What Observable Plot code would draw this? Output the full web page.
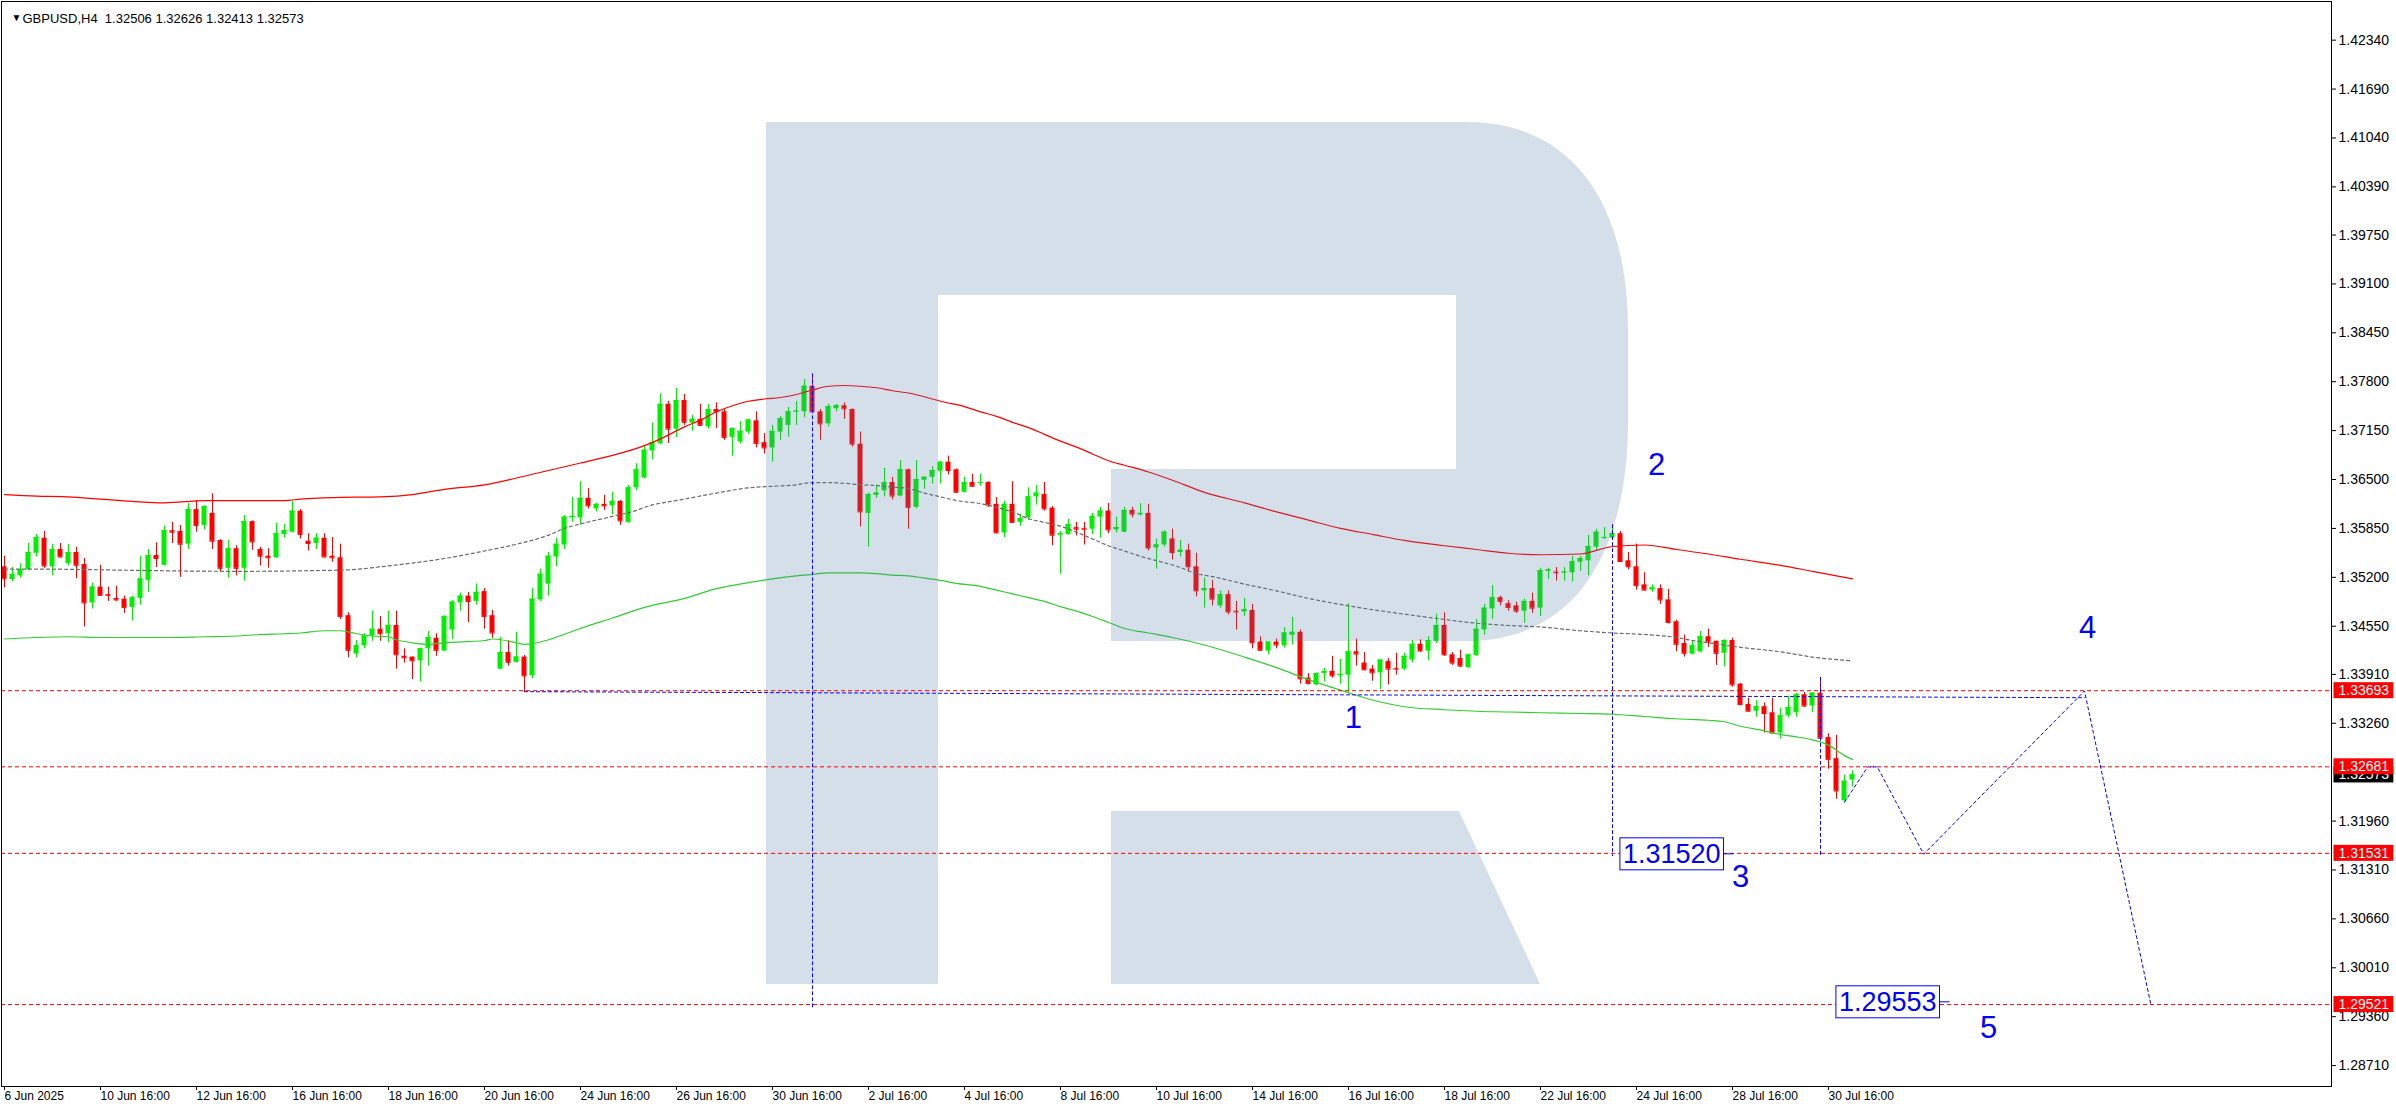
<!DOCTYPE html>
<html><head><meta charset="utf-8">
<script src="https://cdn.jsdelivr.net/npm/d3@7"></script>
<script src="https://cdn.jsdelivr.net/npm/@observablehq/plot@0.6"></script>
<style>
html,body{margin:0;padding:0;background:#fff;}
#chart{width:2396px;height:1110px;}
</style></head><body><div id="chart"></div>
<script>
// ---------------- DATA (GBPUSD H4, bar 0 = 6 Jun 2025 16:00) ----------------
const header = "GBPUSD,H4  1.32506 1.32626 1.32413 1.32573";
const open = [
1.3534,1.3517,1.3522,1.3530,1.3552,1.3572,1.3534,1.3557,1.3538,1.3553,
1.3537,1.3486,1.3507,1.3497,1.3492,1.3491,1.3480,1.3492,1.3516,1.3549,
1.3536,1.3582,1.3581,1.3564,1.3610,1.3589,1.3605,1.3569,1.3532,1.3558,
1.3532,1.3594,1.3557,1.3548,1.3546,1.3577,1.3580,1.3608,1.3568,1.3565,
1.3572,1.3548,1.3546,1.3469,1.3418,1.3429,1.3442,1.3451,1.3445,1.3456,
1.3415,1.3414,1.3409,1.3425,1.3439,1.3422,1.3450,1.3486,1.3495,1.3488,
1.3501,1.3469,1.3398,1.3420,1.3407,1.3414,1.3389,1.3490,1.3511,1.3547,
1.3563,1.3599,1.3599,1.3625,1.3611,1.3617,1.3615,1.3621,1.3593,1.3639,
1.3652,1.3688,1.3698,1.3750,1.3717,1.3755,1.3725,1.3730,1.3720,1.3743,
1.3740,1.3706,1.3700,1.3713,1.3728,1.3699,1.3692,1.3713,1.3722,1.3740,
1.3740,1.3774,1.3740,1.3724,1.3744,1.3748,1.3743,1.3697,1.3605,1.3629,
1.3635,1.3646,1.3628,1.3663,1.3613,1.3649,1.3653,1.3661,1.3673,1.3663,
1.3633,1.3646,1.3645,1.3646,1.3617,1.3579,1.3617,1.3593,1.3599,1.3627,
1.3630,1.3612,1.3576,1.3577,1.3586,1.3585,1.3584,1.3600,1.3608,1.3583,
1.3580,1.3609,1.3603,1.3605,1.3559,1.3563,1.3571,1.3553,1.3556,1.3534,
1.3502,1.3505,1.3482,1.3497,1.3475,1.3474,1.3476,1.3434,1.3422,1.3434,
1.3429,1.3443,1.3447,1.3386,1.3377,1.3392,1.3395,1.3389,1.3390,1.3421,
1.3406,1.3398,1.3393,1.3408,1.3399,1.3398,1.3410,1.3431,1.3422,1.3435,
1.3456,1.3417,1.3412,1.3400,1.3416,1.3450,1.3478,1.3493,1.3485,1.3482,
1.3475,1.3488,1.3479,1.3528,1.3527,1.3526,1.3526,1.3540,1.3542,1.3560,
1.3572,1.3572,1.3578,1.3542,1.3534,1.3510,1.3503,1.3505,1.3490,1.3461,
1.3432,1.3418,1.3421,1.3441,1.3435,1.3419,1.3436,1.3378,1.3351,1.3342,
1.3348,1.3340,1.3313,1.3336,1.3340,1.3364,1.3349,1.3366,1.3307,1.3279,
1.3223,1.32506];
const high = [
1.3548,1.3533,1.3538,1.3565,1.3577,1.3581,1.3564,1.3565,1.3564,1.3560,
1.3545,1.3512,1.3536,1.3507,1.3508,1.3495,1.3495,1.3548,1.3557,1.3566,
1.3588,1.3593,1.3589,1.3618,1.3622,1.3615,1.3631,1.3570,1.3569,1.3562,
1.3602,1.3595,1.3560,1.3558,1.3592,1.3590,1.3621,1.3610,1.3578,1.3578,
1.3578,1.3573,1.3564,1.3473,1.3436,1.3445,1.3475,1.3468,1.3475,1.3475,
1.3425,1.3414,1.3426,1.3448,1.3445,1.3469,1.3489,1.3499,1.3500,1.3511,
1.3505,1.3476,1.3440,1.3436,1.3447,1.3416,1.3505,1.3531,1.3553,1.3572,
1.3602,1.3626,1.3647,1.3638,1.3618,1.3629,1.3633,1.3622,1.3642,1.3671,
1.3695,1.3725,1.3764,1.3754,1.3771,1.3763,1.3735,1.3750,1.3750,1.3752,
1.3743,1.3718,1.3727,1.3730,1.3740,1.3711,1.3722,1.3734,1.3746,1.3754,
1.3783,1.3788,1.3743,1.3750,1.3750,1.3752,1.3744,1.3713,1.3632,1.3643,
1.3665,1.3653,1.3675,1.3664,1.3675,1.3653,1.3667,1.3674,1.3681,1.3664,
1.3653,1.3657,1.3657,1.3647,1.3626,1.3621,1.3647,1.3604,1.3639,1.3642,
1.3646,1.3614,1.3581,1.3597,1.3593,1.3593,1.3605,1.3613,1.3618,1.3600,
1.3613,1.3613,1.3618,1.3617,1.3571,1.3582,1.3584,1.3569,1.3564,1.3552,
1.3519,1.3516,1.3502,1.3502,1.3488,1.3492,1.3484,1.3441,1.3434,1.3438,
1.3453,1.3467,1.3450,1.3392,1.3393,1.3399,1.3415,1.3411,1.3485,1.3438,
1.3420,1.3403,1.3410,1.3412,1.3419,1.3419,1.3436,1.3437,1.3441,1.3471,
1.3473,1.3420,1.3423,1.3418,1.3464,1.3484,1.3509,1.3495,1.3489,1.3487,
1.3491,1.3499,1.3532,1.3532,1.3533,1.3533,1.3548,1.3548,1.3576,1.3584,
1.3586,1.3589,1.3581,1.3553,1.3564,1.3526,1.3510,1.3510,1.3504,1.3463,
1.3443,1.3435,1.3448,1.3451,1.3435,1.3437,1.3439,1.3379,1.3359,1.3356,
1.3353,1.3359,1.3346,1.3362,1.3366,1.3367,1.3367,1.3385,1.3312,1.3310,
1.3257,1.32626];
const low = [
1.3506,1.3514,1.3519,1.3529,1.3547,1.3532,1.3522,1.3546,1.3535,1.3518,
1.3454,1.3478,1.3495,1.3488,1.3488,1.3472,1.3462,1.3483,1.3500,1.3533,
1.3535,1.3565,1.3520,1.3557,1.3580,1.3583,1.3557,1.3527,1.3519,1.3522,
1.3515,1.3556,1.3535,1.3532,1.3545,1.3572,1.3579,1.3571,1.3555,1.3557,
1.3546,1.3540,1.3464,1.3413,1.3413,1.3425,1.3435,1.3435,1.3433,1.3398,
1.3406,1.3384,1.3381,1.3402,1.3415,1.3421,1.3437,1.3475,1.3460,1.3483,
1.3451,1.3439,1.3397,1.3402,1.3406,1.3367,1.3385,1.3488,1.3495,1.3534,
1.3557,1.3593,1.3589,1.3611,1.3607,1.3609,1.3603,1.3589,1.3592,1.3635,
1.3651,1.3676,1.3696,1.3698,1.3706,1.3722,1.3714,1.3721,1.3717,1.3718,
1.3702,1.3681,1.3697,1.3710,1.3692,1.3684,1.3673,1.3702,1.3706,1.3722,
1.3732,1.3739,1.3702,1.3720,1.3740,1.3730,1.3693,1.3587,1.3560,1.3625,
1.3627,1.3623,1.3627,1.3584,1.3611,1.3637,1.3644,1.3644,1.3656,1.3632,
1.3632,1.3640,1.3641,1.3613,1.3578,1.3573,1.3592,1.3588,1.3596,1.3616,
1.3608,1.3562,1.3524,1.3576,1.3575,1.3563,1.3577,1.3572,1.3578,1.3579,
1.3579,1.3599,1.3601,1.3555,1.3531,1.3560,1.3543,1.3547,1.3527,1.3494,
1.3479,1.3482,1.3479,1.3470,1.3450,1.3468,1.3425,1.3422,1.3417,1.3425,
1.3426,1.3430,1.3378,1.3377,1.3376,1.3381,1.3386,1.3378,1.3365,1.3402,
1.3396,1.3382,1.3371,1.3377,1.3390,1.3396,1.3406,1.3421,1.3409,1.3432,
1.3415,1.3403,1.3400,1.3399,1.3415,1.3443,1.3464,1.3482,1.3475,1.3472,
1.3459,1.3472,1.3468,1.3517,1.3515,1.3515,1.3514,1.3528,1.3522,1.3555,
1.3570,1.3570,1.3540,1.3530,1.3503,1.3502,1.3500,1.3484,1.3458,1.3421,
1.3414,1.3417,1.3420,1.3427,1.3403,1.3401,1.3374,1.3349,1.3341,1.3334,
1.3313,1.3312,1.3305,1.3333,1.3334,1.3347,1.3340,1.3305,1.3265,1.3225,
1.3221,1.32413];
const close = [
1.3518,1.3524,1.3530,1.3553,1.3573,1.3535,1.3557,1.3547,1.3553,1.3536,
1.3486,1.3507,1.3496,1.3496,1.3490,1.3480,1.3493,1.3518,1.3549,1.3545,
1.3582,1.3580,1.3564,1.3610,1.3589,1.3614,1.3568,1.3532,1.3558,1.3532,
1.3594,1.3567,1.3548,1.3546,1.3578,1.3582,1.3608,1.3577,1.3565,1.3572,
1.3547,1.3546,1.3468,1.3423,1.3429,1.3442,1.3451,1.3445,1.3456,1.3417,
1.3413,1.3409,1.3425,1.3440,1.3423,1.3468,1.3487,1.3495,1.3488,1.3500,
1.3468,1.3446,1.3420,1.3407,1.3414,1.3389,1.3491,1.3524,1.3548,1.3564,
1.3600,1.3601,1.3625,1.3615,1.3617,1.3615,1.3621,1.3595,1.3639,1.3663,
1.3689,1.3699,1.3750,1.3717,1.3755,1.3726,1.3730,1.3722,1.3743,1.3740,
1.3706,1.3718,1.3714,1.3729,1.3698,1.3692,1.3714,1.3731,1.3740,1.3741,
1.3774,1.3740,1.3724,1.3747,1.3748,1.3744,1.3697,1.3607,1.3630,1.3632,
1.3646,1.3628,1.3663,1.3613,1.3650,1.3653,1.3662,1.3673,1.3662,1.3633,
1.3646,1.3641,1.3646,1.3616,1.3579,1.3617,1.3593,1.3598,1.3627,1.3632,
1.3611,1.3576,1.3578,1.3590,1.3584,1.3584,1.3601,1.3608,1.3583,1.3586,
1.3609,1.3604,1.3605,1.3559,1.3563,1.3580,1.3553,1.3556,1.3534,1.3502,
1.3505,1.3491,1.3497,1.3474,1.3474,1.3477,1.3433,1.3423,1.3434,1.3430,
1.3446,1.3447,1.3385,1.3379,1.3392,1.3395,1.3389,1.3391,1.3421,1.3418,
1.3397,1.3393,1.3410,1.3398,1.3398,1.3415,1.3431,1.3422,1.3436,1.3456,
1.3417,1.3406,1.3402,1.3417,1.3451,1.3479,1.3493,1.3488,1.3480,1.3475,
1.3488,1.3479,1.3529,1.3530,1.3526,1.3527,1.3541,1.3545,1.3561,1.3580,
1.3573,1.3578,1.3541,1.3534,1.3509,1.3503,1.3506,1.3490,1.3460,1.3431,
1.3419,1.3429,1.3441,1.3434,1.3419,1.3436,1.3377,1.3351,1.3342,1.3348,
1.3339,1.3313,1.3336,1.3347,1.3364,1.3349,1.3366,1.3306,1.3278,1.3236,
1.3249,1.32573];

// indicator lines, read as [bar, price]
const upperBand = [[0,1.3630],[4,1.3628],[8,1.3627],[12,1.3624],[16,1.3621],[20,1.3619],[25,1.3622],[30,1.3622],[35,1.3622],[37,1.3624],[41,1.3626],[47,1.3627],[51,1.3630],[55,1.3637],[60,1.3643],[64,1.3652],[68,1.3662],[72,1.3672],[76,1.3682],[80,1.3695],[82,1.3704],[85,1.3720],[87,1.3729],[89,1.3740],[91,1.3748],[93,1.3754],[95,1.3757],[97,1.3759],[99,1.3763],[101,1.3769],[103,1.3774],[105,1.3775],[107,1.3774],[109,1.3772],[111,1.3768],[113,1.3765],[115,1.3760],[117,1.3754],[120,1.3747],[122,1.3740],[124,1.3734],[126,1.3726],[128,1.3719],[130,1.3710],[132,1.3701],[134,1.3693],[136,1.3684],[138,1.3675],[140,1.3669],[143,1.3660],[146,1.3649],[150,1.3633],[155,1.3619],[159,1.3607],[163,1.3596],[167,1.3585],[171,1.3577],[175,1.3569],[180,1.3562],[184,1.3557],[188,1.3552],[192,1.3550],[197,1.3551],[201,1.3561],[205,1.3563],[209,1.3557],[213,1.3551],[217,1.3544],[222,1.3536],[226,1.3528],[231,1.3518]];
const middleLine = [[0,1.3531],[4,1.3531],[12,1.3530],[18,1.3529],[29,1.3528],[39,1.3529],[43,1.3530],[47,1.3534],[51,1.3539],[55,1.3545],[60,1.3555],[64,1.3564],[68,1.3576],[70,1.3585],[72,1.3591],[76,1.3601],[79,1.3609],[80,1.3613],[85,1.3624],[89,1.3632],[93,1.3639],[96,1.3641],[99,1.3643],[101,1.3646],[103,1.3646],[105,1.3645],[107,1.3643],[109,1.3642],[111,1.3640],[113,1.3638],[115,1.3632],[117,1.3627],[119,1.3622],[122,1.3618],[124,1.3613],[126,1.3607],[128,1.3598],[130,1.3593],[132,1.3588],[134,1.3580],[136,1.3571],[138,1.3562],[140,1.3555],[142,1.3548],[147,1.3533],[149,1.3525],[151,1.3521],[155,1.3511],[159,1.3502],[163,1.3492],[167,1.3484],[171,1.3477],[175,1.3471],[180,1.3464],[184,1.3459],[188,1.3456],[192,1.3454],[197,1.3449],[201,1.3446],[205,1.3444],[209,1.3440],[211,1.3436],[213,1.3433],[217,1.3427],[222,1.3421],[226,1.3414],[231,1.3409]];
const lowerBand = [[0,1.3438],[4,1.3440],[8,1.3441],[12,1.3440],[20,1.3440],[25,1.3441],[29,1.3442],[32,1.3444],[35,1.3445],[37,1.3446],[40,1.3449],[42,1.3449],[44,1.3445],[46,1.3442],[48,1.3441],[49,1.3437],[51,1.3433],[53,1.3431],[55,1.3433],[60,1.3436],[61,1.3438],[64,1.3433],[65,1.3431],[67,1.3434],[68,1.3437],[72,1.3452],[76,1.3466],[80,1.3480],[85,1.3492],[89,1.3505],[93,1.3513],[96,1.3518],[99,1.3522],[101,1.3524],[103,1.3526],[105,1.3526],[107,1.3526],[109,1.3525],[111,1.3523],[113,1.3522],[115,1.3519],[117,1.3516],[119,1.3512],[122,1.3508],[124,1.3503],[126,1.3498],[128,1.3493],[130,1.3488],[132,1.3481],[134,1.3475],[136,1.3468],[138,1.3460],[140,1.3452],[143,1.3446],[146,1.3440],[150,1.3430],[155,1.3414],[159,1.3400],[163,1.3384],[167,1.3370],[171,1.3357],[175,1.3348],[180,1.3344],[184,1.3342],[188,1.3341],[192,1.3340],[197,1.3339],[201,1.3338],[205,1.3335],[209,1.3332],[213,1.3330],[215,1.3328],[217,1.3322],[220,1.3316],[222,1.3311],[224,1.3308],[226,1.3304],[228,1.3297],[230,1.3283],[231,1.3278]];

// horizontal levels and price labels
const levels = [1.33693, 1.32681, 1.31531, 1.29521];
const lastPrice = 1.32573;

// axis ticks
const yTicks = [1.42340,1.41690,1.41040,1.40390,1.39750,1.39100,1.38450,1.37800,1.37150,1.36500,1.35850,1.35200,1.34550,1.33910,1.33260,1.31960,1.31310,1.30660,1.30010,1.29360,1.28710];
const xTickBars = [0,12,24,36,48,60,72,84,96,108,120,132,144,156,168,180,192,204,216,228];
const xTickLabels = ["6 Jun 2025","10 Jun 16:00","12 Jun 16:00","16 Jun 16:00","18 Jun 16:00","20 Jun 16:00","24 Jun 16:00","26 Jun 16:00","30 Jun 16:00","2 Jul 16:00","4 Jul 16:00","8 Jul 16:00","10 Jul 16:00","14 Jul 16:00","16 Jul 16:00","18 Jul 16:00","22 Jul 16:00","24 Jul 16:00","28 Jul 16:00","30 Jul 16:00"];

// forecast objects (blue), [bar, price]
const topMarkerLine = [[101,1.37905],[101,1.29480]];
const supportLine = [[65,1.33680],[260,1.33600]];
const wave2Drop = [[201,1.35900],[201,1.31500]];
const swingDrop = [[227,1.33870],[227,1.31500]];
const forecastPath = [[230,1.32210],[232.9,1.32680],[234.1,1.32680],[239.9,1.31520],[260,1.33690],[268.3,1.29520]];

// annotation texts
const waveLabels = [
  {text:"1", bar:168.6, price:1.33323},
  {text:"2", bar:206.5, price:1.36686},
  {text:"3", bar:217.0, price:1.31210},
  {text:"4", bar:260.4, price:1.34520},
  {text:"5", bar:248.0, price:1.29203}
];
const targetLabels = [
  {text:"1.31520", bar:208.4, price:1.31520},
  {text:"1.29553", bar:235.4, price:1.29553}
];

// ---------------- BUILD ----------------
const UP = "#00ee00", DOWN = "#ff0000", BLUE = "#0000ff";
const FONT = "'Liberation Sans', Arial, sans-serif";
const candles = open.map((o, i) => ({i, o, h: high[i], l: low[i], c: close[i], up: close[i] >= o}));
const pts = a => a.map(([bar, price]) => ({bar, price}));
const blueSegs = [
  ...pts(topMarkerLine).map(d => ({...d, id: "a"})),
  ...pts(supportLine).map(d => ({...d, id: "b"})),
  ...pts(wave2Drop).map(d => ({...d, id: "c"})),
  ...pts(swingDrop).map(d => ({...d, id: "d"})),
  ...pts(forecastPath).map(d => ({...d, id: "e"}))
];
const HW = 0.3125;

const chart = Plot.plot({
  width: 2396, height: 1110,
  marginLeft: 1, marginRight: 65, marginTop: 1, marginBottom: 24,
  style: {fontFamily: FONT, fontSize: "12px", background: "#fff", color: "#000"},
  x: {domain: [-0.375, 290.875]},
  y: {domain: [1.28432, 1.42854]},
  marks: [
    Plot.ruleX(candles, {x: "i", y1: "l", y2: "h", stroke: d => d.up ? UP : DOWN, strokeWidth: 1}),
    Plot.rect(candles, {x1: d => d.i - HW, x2: d => d.i + HW, y1: "o", y2: "c", fill: d => d.up ? UP : DOWN}),
    Plot.ruleY(candles, {x1: d => d.i - HW, x2: d => d.i + HW, y: "c", stroke: d => d.up ? UP : DOWN}),
    Plot.line(pts(upperBand), {x: "bar", y: "price", stroke: "#ff0000", strokeWidth: 1.2, curve: "monotone-x"}),
    Plot.line(pts(middleLine), {x: "bar", y: "price", stroke: "#6a6a6a", strokeWidth: 1.2, strokeDasharray: "3,3", curve: "monotone-x"}),
    Plot.line(pts(lowerBand), {x: "bar", y: "price", stroke: "#32cd32", strokeWidth: 1.2, curve: "monotone-x"}),
    Plot.ruleY(levels, {y: d => d, stroke: "#ff0000", strokeDasharray: "4,3", ariaDescription: "levels"}),
    Plot.line(blueSegs, {x: "bar", y: "price", z: "id", stroke: BLUE, strokeWidth: 1, strokeDasharray: "3,3"}),
    Plot.text(waveLabels, {x: "bar", y: "price", text: "text", fill: BLUE, fontSize: 31, fontFamily: FONT}),
    Plot.text(targetLabels, {x: "bar", y: "price", text: "text", fill: BLUE, fontSize: 27, fontFamily: FONT, ariaDescription: "target-labels"}),
    Plot.frame({stroke: "#000"}),
    Plot.axisY(yTicks, {anchor: "right", tickSize: 4, tickPadding: 3, tickFormat: d => d.toFixed(5), fontSize: 14, fill: "#000", label: null}),
    Plot.axisX(xTickBars, {anchor: "bottom", tickSize: 4, tickPadding: 1, textAnchor: "start", tickFormat: d => xTickLabels[xTickBars.indexOf(d)], fontSize: 12, fill: "#000", label: null}),
    Plot.text([lastPrice], {y: d => d, frameAnchor: "right", dx: 7, textAnchor: "start", fill: "#fff", fontSize: 14, text: d => d.toFixed(5), ariaDescription: "last-label"}),
    Plot.text(levels, {y: d => d, frameAnchor: "right", dx: 7, textAnchor: "start", fill: "#fff", fontSize: 14, text: d => d.toFixed(5), ariaDescription: "level-labels"}),
    Plot.text(["▼"], {frameAnchor: "top-left", dx: 10, dy: 12, fontSize: 10, fill: "#000"}),
    Plot.text([header], {frameAnchor: "top-left", dx: 21, dy: 12, textAnchor: "start", fontSize: 13, fill: "#000"})
  ]
});
document.getElementById("chart").appendChild(chart);

// ---------------- DECORATION: watermark logo & label boxes ----------------
const NS = "http://www.w3.org/2000/svg";
function groupOf(desc) {
  let n = chart.querySelector(`[aria-description="${desc}"]`);
  if (!n) return null;
  while (n.parentNode && n.parentNode !== chart && n.tagName !== "g") n = n.parentNode;
  return n;
}
// watermark (semi-transparent, above candles/indicators, below drawn objects)
const levelsG = groupOf("levels");
const logo = document.createElementNS(NS, "g");
logo.setAttribute("fill", "rgb(77,119,166)");
logo.setAttribute("fill-opacity", "0.235");
logo.innerHTML =
  '<path d="M766,122 H1467 C1570,122 1628,200 1628,330 V420 C1628,560 1570,641 1467,641 H1111 V469 H1456 V295 H938 V984 H766 Z"/>' +
  '<path d="M1111,811 H1459 L1540,984 H1111 Z"/>';
if (levelsG) levelsG.parentNode.insertBefore(logo, levelsG); else chart.appendChild(logo);

function boxes(desc, makeRect, tail) {
  const g = groupOf(desc);
  if (!g) return;
  g.querySelectorAll("text").forEach(function(t) {
    const b = t.getBBox();
    const r = makeRect(b);
    const el = document.createElementNS(NS, "rect");
    for (const k in r) el.setAttribute(k, r[k]);
    const tr = t.getAttribute("transform");
    if (tr) el.setAttribute("transform", tr);
    t.parentNode.insertBefore(el, t);
    if (tail) {
      const l = document.createElementNS(NS, "line");
      const cy = b.y + b.height / 2;
      l.setAttribute("x1", b.x + b.width + 3); l.setAttribute("x2", b.x + b.width + 13);
      l.setAttribute("y1", cy); l.setAttribute("y2", cy);
      l.setAttribute("stroke", BLUE);
      if (tr) l.setAttribute("transform", tr);
      t.parentNode.appendChild(l);
    }
  });
}
boxes("last-label", b => ({x: b.x - 5, y: b.y + b.height / 2 - 8, width: b.width + 9, height: 16, fill: "#000"}));
boxes("level-labels", b => ({x: b.x - 5, y: b.y + b.height / 2 - 8, width: b.width + 9, height: 16, fill: "#ff0000"}));
boxes("target-labels", b => ({x: b.x - 3, y: b.y + b.height / 2 - 16, width: b.width + 6, height: 32, fill: "#fff", stroke: BLUE, "stroke-width": 1}), true);
</script>
</body></html>
